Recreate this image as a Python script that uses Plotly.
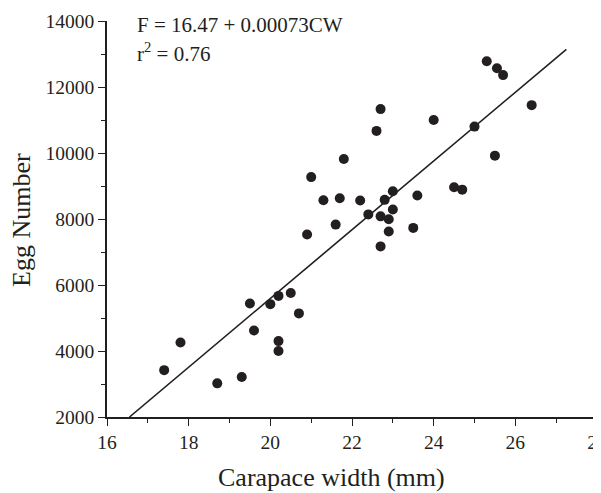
import plotly.graph_objects as go

# Data
carapace_width = [25.3, 25.55, 25.7, 26.4, 22.7, 22.6, 24.0, 25.0, 25.5, 21.8,
                  21.0, 21.3, 21.7, 22.2, 22.8, 23.0, 23.6, 24.5, 24.7, 23.0,
                  22.4, 22.7, 22.9, 21.6, 22.9, 23.5, 20.9, 22.7, 20.2, 20.5,
                  19.5, 20.0, 20.7, 19.6, 17.8, 20.2, 20.2, 17.4, 19.3, 18.7]
egg_number = [12780, 12570, 12360, 11450, 11330, 10670, 11000, 10800, 9920, 9820,
              9270, 8570, 8630, 8560, 8580, 8840, 8710, 8960, 8890, 8290,
              8140, 8080, 7990, 7830, 7620, 7730, 7530, 7170, 5670, 5760,
              5440, 5420, 5140, 4620, 4260, 4300, 4000, 3420, 3210, 3020]

fit_x = [16.55, 27.25]
fit_y = [2000, 13140]

x_ticks = [16, 18, 20, 22, 24, 26, 28]
y_ticks = [2000, 4000, 6000, 8000, 10000, 12000, 14000]

equation_text = "F = 16.47 + 0.00073CW"
r2_text = "r<sup>2</sup> = 0.76"
x_title = "Carapace width (mm)"
y_title = "Egg Number"

INK = "#231f20"
FONT = "Liberation Serif, Times New Roman, serif"

fig = go.Figure()
fig.add_trace(go.Scatter(x=fit_x, y=fit_y, mode="lines",
                         line=dict(color=INK, width=1.6), hoverinfo="skip",
                         showlegend=False))
fig.add_trace(go.Scatter(x=carapace_width, y=egg_number, mode="markers",
                         marker=dict(color=INK, size=10, line=dict(width=0)),
                         showlegend=False))

axis_common = dict(
    showgrid=False, zeroline=False, showline=True, linecolor=INK, linewidth=1.5,
    ticks="outside", ticklen=7, tickwidth=1.3, tickcolor=INK,
    tickfont=dict(family=FONT, size=19.5, color=INK),
    ticklabeloverflow="allow", automargin=False,
)

fig.update_xaxes(range=[16, 28], tickvals=x_ticks, ticktext=[str(v) for v in x_ticks],
                 minor=dict(dtick=1, tick0=16, ticks="outside", ticklen=4,
                            tickwidth=1.3, tickcolor=INK),
                 **axis_common)
fig.update_yaxes(range=[2000, 14000], tickvals=y_ticks, ticktext=[str(v) for v in y_ticks],
                 minor=dict(dtick=1000, tick0=2000, ticks="outside", ticklen=4,
                            tickwidth=1.3, tickcolor=INK),
                 **axis_common)

annotations = [
    dict(text=equation_text, x=16.68, y=13870, xref="x", yref="y",
         xanchor="left", yanchor="middle", showarrow=False,
         font=dict(family=FONT, size=21, color=INK)),
    dict(text=r2_text, x=16.68, y=13060, xref="x", yref="y",
         xanchor="left", yanchor="middle", showarrow=False,
         font=dict(family=FONT, size=21, color=INK)),
    dict(text=x_title, x=21.51, y=-0.154, xref="x", yref="paper",
         xanchor="center", yanchor="middle", showarrow=False,
         font=dict(family=FONT, size=26, color=INK)),
    dict(text=y_title, x=-0.176, y=0.497, xref="paper", yref="paper",
         xanchor="center", yanchor="middle", textangle=-90, showarrow=False,
         font=dict(family=FONT, size=26, color=INK)),
]

# The page body adds an 8px offset, so the figure is sized to fit the window.
fig.update_layout(
    width=593, height=485,
    margin=dict(l=99, r=4, t=13, b=76, pad=0, autoexpand=False),
    paper_bgcolor="white", plot_bgcolor="white",
    annotations=annotations,
    showlegend=False,
)

fig.write_html("out.html")
